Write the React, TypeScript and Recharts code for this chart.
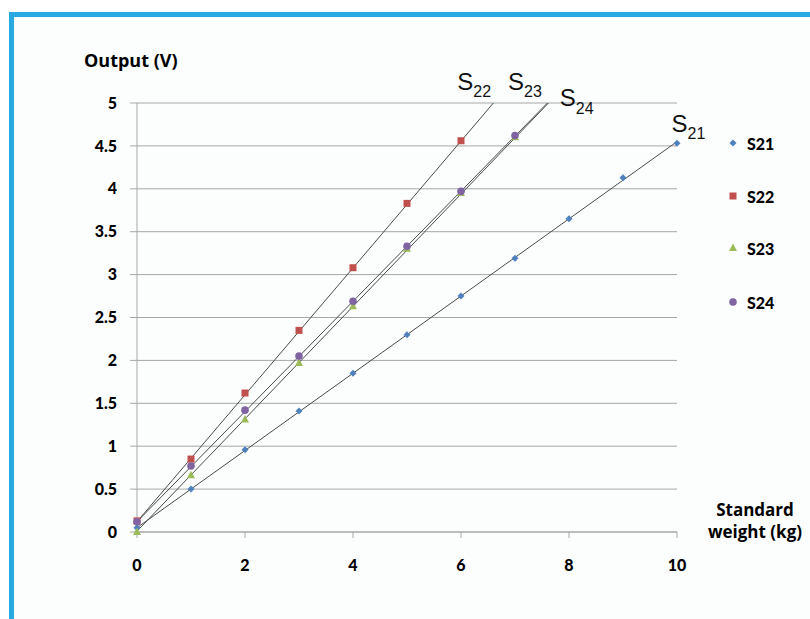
import React from 'react';
import { ScatterChart, Scatter, XAxis, YAxis, CartesianGrid, ReferenceLine, ReferenceDot } from 'recharts';

// standard weight (kg) and sensor output (V)
const weights = [0, 1, 2, 3, 4, 5, 6, 7, 8, 9, 10];
const s21 = [0.05, 0.5, 0.96, 1.41, 1.85, 2.3, 2.75, 3.19, 3.65, 4.13, 4.53];
const s22 = [0.13, 0.85, 1.62, 2.35, 3.08, 3.83, 4.56];
const s23 = [0.0, 0.66, 1.31, 1.97, 2.63, 3.3, 3.95, 4.6];
const s24 = [0.12, 0.77, 1.42, 2.05, 2.69, 3.33, 3.97, 4.62];

// linear fit end points
const fit21 = [{ x: 0, y: 0.05 }, { x: 10, y: 4.55 }];
const fit22 = [{ x: 0, y: 0.12 }, { x: 6.6, y: 5 }];
const fit23 = [{ x: 0, y: 0.01 }, { x: 7.62, y: 5 }];
const fit24 = [{ x: 0, y: 0.12 }, { x: 7.6, y: 5 }];

const yTicks = [0, 0.5, 1, 1.5, 2, 2.5, 3, 3.5, 4, 4.5, 5];
const xTicks = [0, 2, 4, 6, 8, 10];

const COLORS = { s21: '#4f81bd', s22: '#c0504d', s23: '#9bbb59', s24: '#8064a2' };
const FONT = 'Lato, "Open Sans", sans-serif';
const WIDE = '"Open Sans", Lato, sans-serif';

const toPoints = (vals: number[]) => vals.map((v, i) => ({ x: weights[i], y: v }));

const Diamond = ({ cx, cy, fill }: any) => (
  <polygon points={`${cx},${cy - 3.5} ${cx + 3.5},${cy} ${cx},${cy + 3.5} ${cx - 3.5},${cy}`} fill={fill} />
);
const Square = ({ cx, cy, fill }: any) => <rect x={cx - 3.5} y={cy - 3.5} width={7} height={7} fill={fill} />;
const Triangle = ({ cx, cy, fill }: any) => (
  <polygon points={`${cx},${cy - 4.5} ${cx + 4},${cy + 3} ${cx - 4},${cy + 3}`} fill={fill} />
);
const Circle = ({ cx, cy, fill }: any) => <circle cx={cx} cy={cy} r={3.8} fill={fill} />;

const series = [
  { name: 'S21', data: s21, color: COLORS.s21, shape: Diamond },
  { name: 'S22', data: s22, color: COLORS.s22, shape: Square },
  { name: 'S23', data: s23, color: COLORS.s23, shape: Triangle },
  { name: 'S24', data: s24, color: COLORS.s24, shape: Circle },
];

const fits = [fit21, fit22, fit23, fit24];

// curve labels: S with a subscript number, placed in data coords
const curveLabels = [
  { sub: '22', x: 5.93, y: 5.15, dy: 7 },
  { sub: '23', x: 6.87, y: 5.15, dy: 7 },
  { sub: '24', x: 7.83, y: 4.96, dy: 8 },
  { sub: '21', x: 9.9, y: 4.66, dy: 7 },
];

const SubLabel = (sub: string, dy: number) => ({ cx, cy }: any) => (
  <text x={cx} y={cy} fontFamily='"Liberation Sans", Arial, sans-serif' fontSize={24} fill="#111">
    S
    <tspan fontSize={16} dy={dy}>{sub}</tspan>
  </text>
);

const legendTops = [143, 196, 248, 302];
const tickStyle = { fill: '#000', fontFamily: FONT, fontWeight: 900, fontSize: 16 };

export default function App() {
  return (
    <div style={{ position: 'fixed', left: 0, top: 0, width: 810, height: 619, background: '#fff', overflow: 'hidden' }}>
      <div
        style={{
          position: 'absolute', left: 9, top: 12, width: 820, height: 640,
          borderTop: '5px solid #29a9e1', borderLeft: '5px solid #29a9e1', background: '#fcfefe',
        }}
      />
      <div style={{ position: 'absolute', left: 0, top: 0 }}>
        <ScatterChart width={810} height={619} margin={{ top: 103, right: 133, left: 77, bottom: 57 }}>
          <CartesianGrid vertical={false} stroke="#a6a6a6" />
          <XAxis
            type="number"
            dataKey="x"
            domain={[0, 10]}
            ticks={xTicks}
            height={30}
            stroke="#a6a6a6"
            tickSize={6}
            tickMargin={22}
            tick={tickStyle}
          />
          <YAxis
            type="number"
            dataKey="y"
            domain={[0, 5]}
            ticks={yTicks}
            width={60}
            stroke="#a6a6a6"
            tickSize={7}
            tickMargin={13}
            tick={tickStyle}
          />
          {series.map((s) => (
            <Scatter
              key={s.name}
              name={s.name}
              data={toPoints(s.data)}
              fill={s.color}
              shape={s.shape}
              isAnimationActive={false}
            />
          ))}
          {fits.map((f, i) => (
            <ReferenceLine key={`fit-${i}`} segment={f} stroke="#4a4a4a" strokeWidth={1} ifOverflow="visible" />
          ))}
          {curveLabels.map((l) => (
            <ReferenceDot key={l.sub} x={l.x} y={l.y} r={0} ifOverflow="visible" shape={SubLabel(l.sub, l.dy)} />
          ))}
        </ScatterChart>
      </div>
      <div
        style={{
          position: 'absolute', left: 84, top: 48, fontFamily: WIDE, fontWeight: 700, fontSize: 18,
          lineHeight: '24px', color: '#000', whiteSpace: 'nowrap',
        }}
      >
        Output (V)
      </div>
      <div
        style={{
          position: 'absolute', left: 705, top: 499, width: 100, textAlign: 'center',
          fontFamily: WIDE, fontWeight: 700, fontSize: 17, lineHeight: '22px', color: '#000', whiteSpace: 'nowrap',
        }}
      >
        Standard
        <br />
        weight (kg)
      </div>
      {series.map((s, i) => {
        const Shape = s.shape;
        return (
          <div key={s.name} style={{ position: 'absolute', left: 726, top: legendTops[i] - 11, height: 22, display: 'flex', alignItems: 'center' }}>
            <svg width={14} height={14} style={{ marginRight: 7 }}>
              <Shape cx={7} cy={7} fill={s.color} />
            </svg>
            <span style={{ fontFamily: FONT, fontWeight: 900, fontSize: 16, color: '#000' }}>{s.name}</span>
          </div>
        );
      })}
    </div>
  );
}
